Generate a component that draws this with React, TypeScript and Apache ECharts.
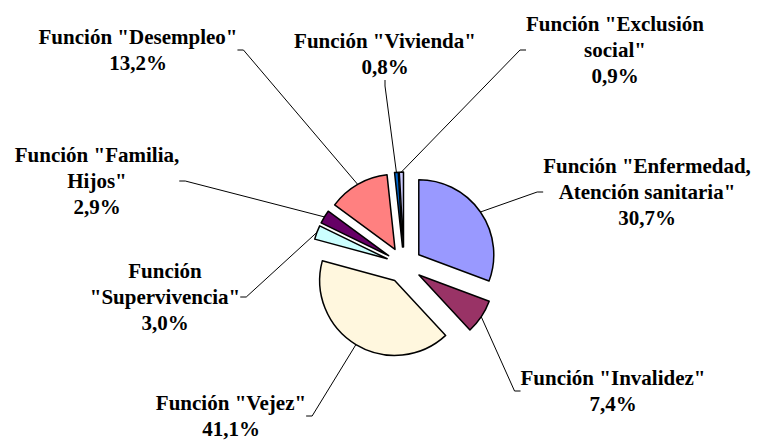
import React, { useEffect, useRef } from 'react';
import * as echarts from 'echarts';

const categories = [
  'Función "Enfermedad,\nAtención sanitaria"',
  'Función "Invalidez"',
  'Función "Vejez"',
  'Función\n"Supervivencia"',
  'Función "Familia,\nHijos"',
  'Función "Desempleo"',
  'Función "Vivienda"',
  'Función "Exclusión\nsocial"',
];
const shares = [30.7, 7.4, 41.1, 3.0, 2.9, 13.2, 0.8, 0.9];
const sliceColors = ['#9999FF', '#993366', '#FFF7DE', '#CCFFFF', '#660066', '#FF8080', '#0066CC', '#CCCCFF'];
const labelCenters = [
  [647, 192],
  [613, 391],
  [231, 416],
  [165, 297],
  [97, 181],
  [138, 50],
  [385, 54],
  [615, 50],
];

const PIE_CX = 404;
const PIE_CY = 265;
const RADIUS = 75;
const EXPLODE = 18;

const labelStyle = {
  color: '#000',
  fontFamily: 'Liberation Serif',
  fontWeight: 'bold',
  fontSize: 21,
  lineHeight: 26,
  align: 'center',
  formatter: (p: any) => `${p.name}\n${Number(p.value).toFixed(1).replace('.', ',')}%`,
};

function buildSeries() {
  const total = shares.reduce((a, b) => a + b, 0);
  let cum = 0;
  return shares.map((v, k) => {
    const mid = ((cum + v / 2) / total) * Math.PI * 2;
    cum += v;
    const cx = PIE_CX + EXPLODE * Math.sin(mid);
    const cy = PIE_CY - EXPLODE * Math.cos(mid);
    return {
      type: 'pie',
      center: [cx, cy],
      radius: RADIUS,
      startAngle: 90,
      clockwise: true,
      avoidLabelOverlap: false,
      silent: true,
      emphasis: { disabled: true },
      labelLayout: (params: any) => {
        const p = labelCenters[params.dataIndex];
        return { x: p[0], y: p[1], align: 'center', verticalAlign: 'middle' };
      },
      data: categories.map((name, i) => {
        const on = i === k;
        return {
          name,
          value: shares[i],
          itemStyle: on
            ? { color: sliceColors[i], borderColor: '#000', borderWidth: 1.5 }
            : { color: 'rgba(0,0,0,0)', borderWidth: 0 },
          label: on ? { show: true, position: 'outside', ...labelStyle } : { show: false },
          labelLine: on
            ? { show: true, length: 10, length2: 6, lineStyle: { color: '#000', width: 1 } }
            : { show: false },
        };
      }),
    };
  });
}

export default function App() {
  const ref = useRef<HTMLDivElement>(null);
  useEffect(() => {
    if (!ref.current) return;
    const chart = echarts.init(ref.current, undefined, { renderer: 'svg' });
    chart.setOption({
      animation: false,
      backgroundColor: '#fff',
      series: buildSeries(),
    });
    return () => chart.dispose();
  }, []);
  return (
    <div
      ref={ref}
      style={{ position: 'fixed', left: 0, top: 0, width: 757, height: 441 }}
    />
  );
}
